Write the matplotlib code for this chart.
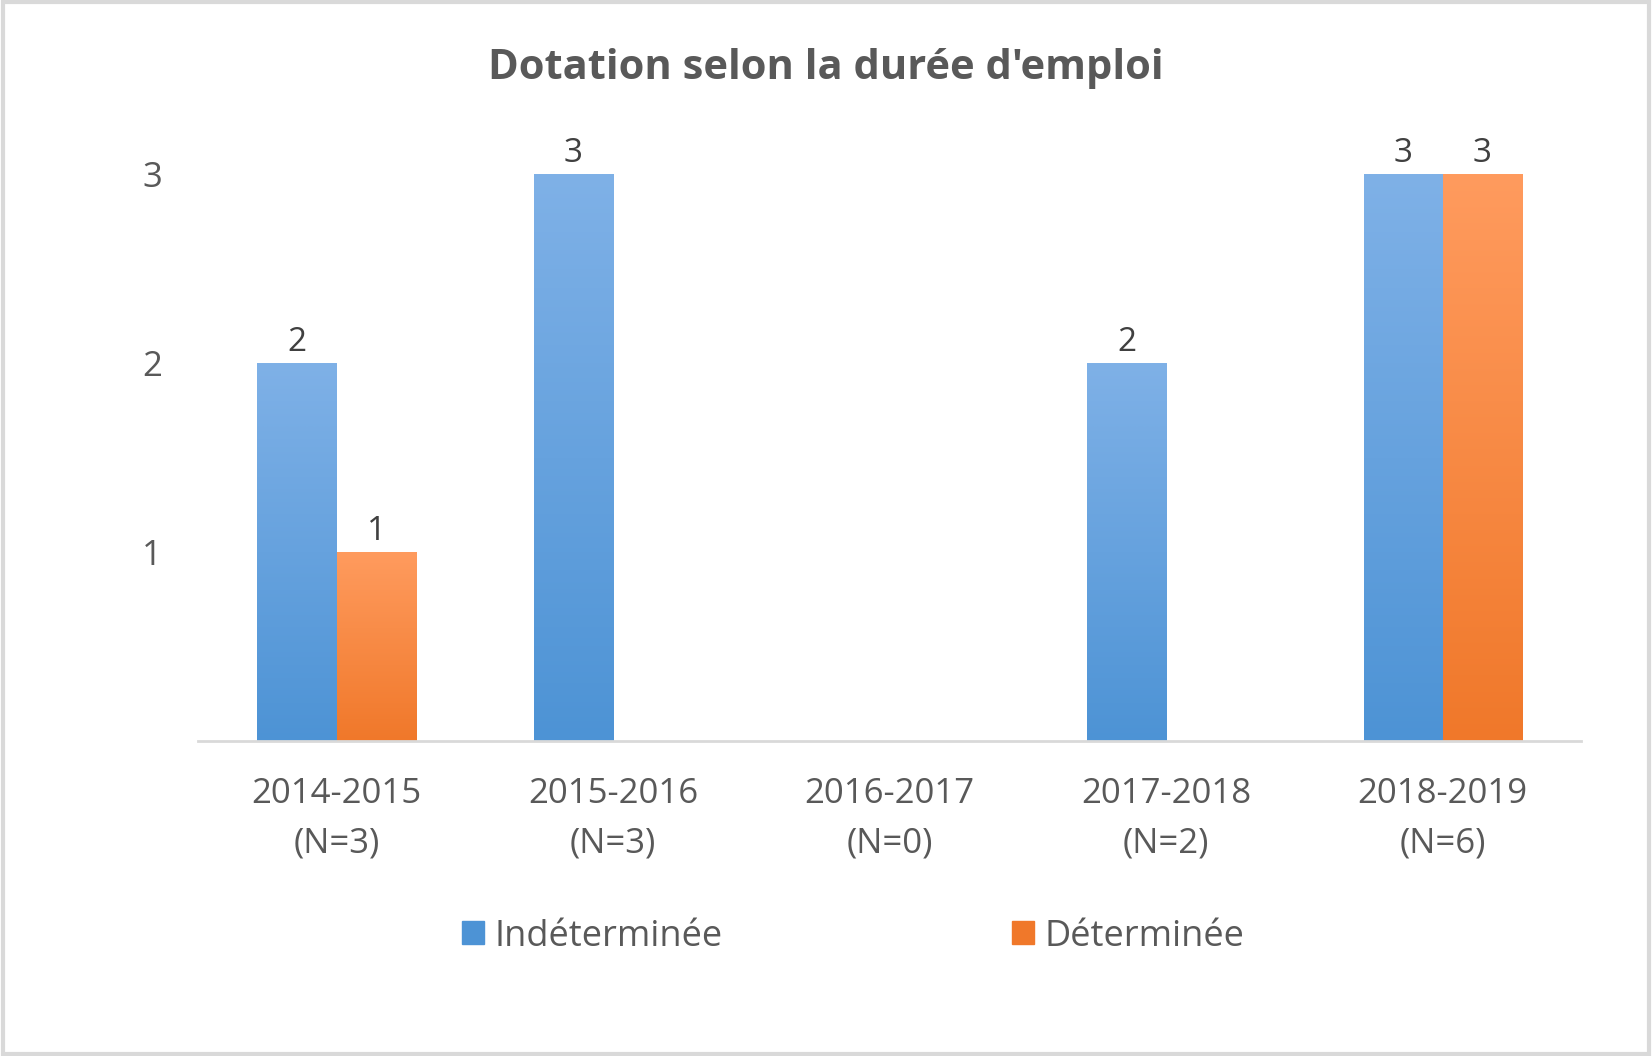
import matplotlib
matplotlib.use("Agg")
import matplotlib.pyplot as plt
import numpy as np
from matplotlib.patches import Rectangle
from matplotlib.colors import LinearSegmentedColormap

plt.rcParams['font.family'] = ['Open Sans', 'DejaVu Sans']

categories = ["2014-2015\n(N=3)", "2015-2016\n(N=3)", "2016-2017\n(N=0)",
              "2017-2018\n(N=2)", "2018-2019\n(N=6)"]
indeterminee = [2, 3, 0, 2, 3]
determinee = [1, 0, 0, 0, 3]
series_names = ["Indéterminée", "Déterminée"]

BLUE_TOP, BLUE_BOT = "#7fb1e7", "#4d93d5"
ORANGE_TOP, ORANGE_BOT = "#ff9b5e", "#f0782a"
TEXT = "#595959"

fig = plt.figure(figsize=(16.52, 10.56), dpi=100)
ax = fig.add_axes([0.12, 0.2984, 0.837, 0.5366])

x = np.arange(len(categories))
w = 0.286


def gradient_bars(xs, vals, top, bot):
    cmap = LinearSegmentedColormap.from_list("g", [bot, top])
    grad = np.linspace(0, 1, 256).reshape(-1, 1)
    bars = ax.bar(xs, vals, w, color=bot, edgecolor="none")
    for b, v in zip(bars, vals):
        if v == 0:
            continue
        im = ax.imshow(grad, cmap=cmap, origin="lower", aspect="auto",
                       extent=[b.get_x(), b.get_x() + w, 0, v], zorder=2)
        im.set_clip_path(b)
        ax.text(b.get_x() + w / 2, v + 0.02, str(v), ha="center", va="bottom",
                fontsize=24, color="#404040", clip_on=False)
    return bars


b1 = gradient_bars(x - w / 2, indeterminee, BLUE_TOP, BLUE_BOT)
b2 = gradient_bars(x + w / 2, determinee, ORANGE_TOP, ORANGE_BOT)

ax.set_xlim(-0.5, len(categories) - 0.5)
ax.set_ylim(0, 3)
ax.set_yticks([1, 2, 3])
ax.set_yticklabels(["1", "2", "3"])
ax.set_xticks(x)
ax.set_xticklabels(categories, linespacing=1.6)
ax.tick_params(axis="both", length=0, labelsize=25, colors=TEXT)
ax.tick_params(axis="x", pad=26)
ax.tick_params(axis="y", pad=26)
for s in ["top", "right", "left"]:
    ax.spines[s].set_visible(False)
ax.spines["bottom"].set_color("#d9d9d9")
ax.spines["bottom"].set_linewidth(2)

fig.text(0.5, 0.935, "Dotation selon la durée d'emploi", ha="center", va="center",
         fontsize=30, fontweight="bold", color=TEXT)

handles = [Rectangle((0, 0), 1, 1, color=BLUE_BOT), Rectangle((0, 0), 1, 1, color=ORANGE_BOT)]
fig.legend(handles, series_names, loc="center", bbox_to_anchor=(0.5166, 0.113), ncol=2,
           frameon=False, fontsize=26, labelcolor=TEXT, handlelength=0.6, handleheight=0.6,
           handletextpad=0.3, columnspacing=8.0)

border = Rectangle((0.002, 0.002), 0.996, 0.996, transform=fig.transFigure,
                   fill=False, edgecolor="#d9d9d9", linewidth=3)
fig.patches.append(border)

fig.savefig("out.png", dpi=100)
